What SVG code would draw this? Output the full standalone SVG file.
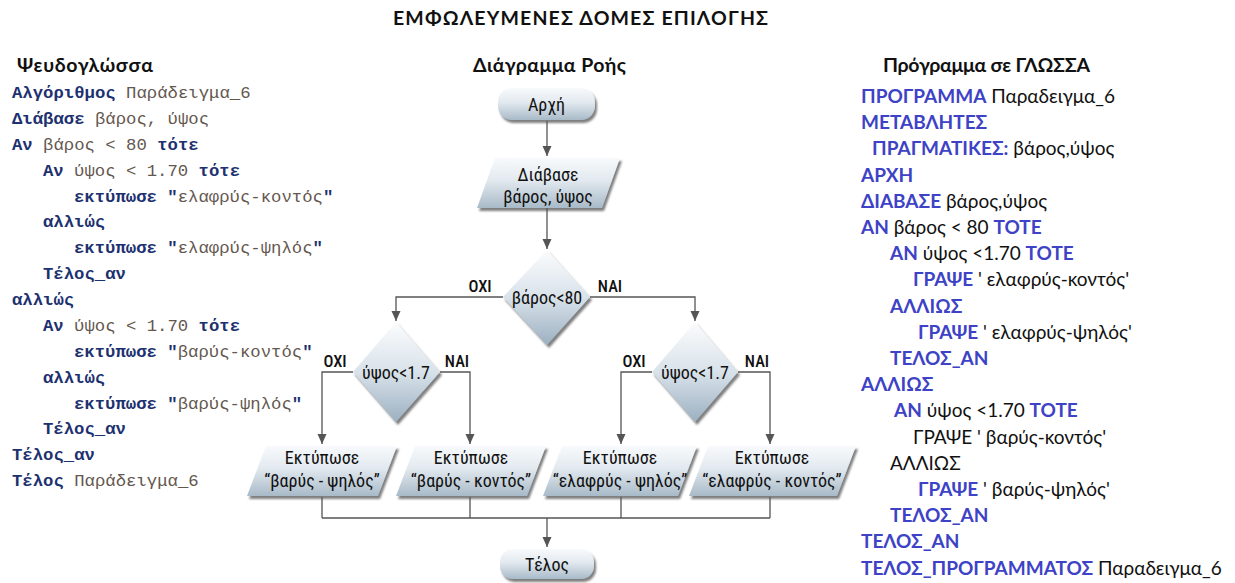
<svg xmlns="http://www.w3.org/2000/svg" width="1235" height="583" viewBox="0 0 1235 583">
<style>
.h{font-family:Lato,"Open Sans","Liberation Sans",sans-serif;font-weight:bold;font-size:19.5px;fill:#111}
.pc{font-family:"Liberation Mono","DejaVu Sans Mono",monospace;font-size:17.3px;fill:#64574f}
.pc .k{font-weight:bold;fill:#1d3170}
.gl{font-family:Lato,"Liberation Sans",sans-serif;font-size:19px;fill:#111}
.gl .k{font-weight:bold;fill:#3d42c6}
.ft{font-family:"Liberation Sans Narrow","Roboto Condensed",Roboto,sans-serif;font-size:18px;fill:#111;text-anchor:middle}
.lb{font-family:"Liberation Sans Narrow","Roboto Condensed",Roboto,sans-serif;font-size:16.5px;font-weight:500;fill:#111;text-anchor:middle}
.shape{fill:url(#g);filter:url(#sh)}
.dia{fill:url(#gd);filter:url(#sh)}
.cn{fill:none;stroke:#555;stroke-width:1.3}
.ar{marker-end:url(#ah)}
</style>
<defs>
<linearGradient id="g" x1="0" y1="0" x2="0" y2="1">
<stop offset="0" stop-color="#f8fafc"/>
<stop offset="0.45" stop-color="#e2e9ef"/>
<stop offset="1" stop-color="#a8bac8"/>
</linearGradient>
<linearGradient id="gd" x1="0" y1="0" x2="0" y2="1">
<stop offset="0" stop-color="#fbfcfd"/>
<stop offset="0.5" stop-color="#d8e2ea"/>
<stop offset="1" stop-color="#9cb0c1"/>
</linearGradient>
<filter id="sh" x="-10%" y="-10%" width="125%" height="130%">
<feDropShadow dx="2" dy="3" stdDeviation="1" flood-color="#555" flood-opacity="0.75"/>
</filter>
<marker id="ah" markerWidth="10" markerHeight="10" refX="10" refY="5" orient="auto" markerUnits="userSpaceOnUse">
<path d="M0,0.5 L10,5 L0,9.5 z" fill="#555"/>
</marker>
</defs>
<rect width="1235" height="583" fill="#fff"/>

<text class="h" x="580.5" y="25" text-anchor="middle" textLength="375" font-size="22">ΕΜΦΩΛΕΥΜΕΝΕΣ ΔΟΜΕΣ ΕΠΙΛΟΓΗΣ</text>
<text class="h" x="17" y="72" textLength="136">Ψευδογλώσσα</text>
<text class="h" x="473" y="72" textLength="153">Διάγραμμα Ροής</text>
<text class="h" x="883" y="72" textLength="207">Πρόγραμμα σε ΓΛΩΣΣΑ</text>

<g id="pseudocode" class="pc" xml:space="preserve">
<text x="12" y="98"><tspan class="k">Αλγόριθμος</tspan> Παράδειγμα_6</text>
<text x="12" y="124"><tspan class="k">Διάβασε</tspan> βάρος, ύψος</text>
<text x="12" y="150"><tspan class="k">Αν</tspan> βάρος &lt; 80 <tspan class="k">τότε</tspan></text>
<text x="43" y="176"><tspan class="k">Αν</tspan> ύψος &lt; 1.70 <tspan class="k">τότε</tspan></text>
<text x="74" y="202"><tspan class="k">εκτύπωσε</tspan> <tspan class="k">"</tspan>ελαφρύς-κοντός<tspan class="k">"</tspan></text>
<text x="43" y="227"><tspan class="k">αλλιώς</tspan></text>
<text x="74" y="253"><tspan class="k">εκτύπωσε</tspan> <tspan class="k">"</tspan>ελαφρύς-ψηλός<tspan class="k">"</tspan></text>
<text x="43" y="279"><tspan class="k">Τέλος_αν</tspan></text>
<text x="12" y="305"><tspan class="k">αλλιώς</tspan></text>
<text x="43" y="331"><tspan class="k">Αν</tspan> ύψος &lt; 1.70 <tspan class="k">τότε</tspan></text>
<text x="74" y="357"><tspan class="k">εκτύπωσε</tspan> <tspan class="k">"</tspan>βαρύς-κοντός<tspan class="k">"</tspan></text>
<text x="43" y="383"><tspan class="k">αλλιώς</tspan></text>
<text x="74" y="409"><tspan class="k">εκτύπωσε</tspan> <tspan class="k">"</tspan>βαρύς-ψηλός<tspan class="k">"</tspan></text>
<text x="43" y="434"><tspan class="k">Τέλος_αν</tspan></text>
<text x="12" y="460"><tspan class="k">Τέλος_αν</tspan></text>
<text x="12" y="486"><tspan class="k">Τέλος</tspan> Παράδειγμα_6</text>
</g>

<g id="glossa" class="gl" xml:space="preserve">
<text x="861" y="103"><tspan class="k">ΠΡΟΓΡΑΜΜΑ</tspan> Παραδειγμα_6</text>
<text x="861" y="129.2"><tspan class="k">ΜΕΤΑΒΛΗΤΕΣ</tspan></text>
<text x="872" y="155.4"><tspan class="k">ΠΡΑΓΜΑΤΙΚΕΣ:</tspan> βάρος,ύψος</text>
<text x="861" y="181.6"><tspan class="k">ΑΡΧΗ</tspan></text>
<text x="861" y="207.8"><tspan class="k">ΔΙΑΒΑΣΕ</tspan> βάρος,ύψος</text>
<text x="861" y="234"><tspan class="k">ΑΝ</tspan> βάρος &lt; 80 <tspan class="k">ΤΟΤΕ</tspan></text>
<text x="890" y="260.2"><tspan class="k">ΑΝ</tspan> ύψος &lt;1.70 <tspan class="k">ΤΟΤΕ</tspan></text>
<text x="913" y="286.4"><tspan class="k">ΓΡΑΨΕ</tspan> ' ελαφρύς-κοντός'</text>
<text x="890" y="312.6"><tspan class="k">ΑΛΛΙΩΣ</tspan></text>
<text x="918" y="338.8"><tspan class="k">ΓΡΑΨΕ</tspan> ' ελαφρύς-ψηλός'</text>
<text x="890" y="365"><tspan class="k">ΤΕΛΟΣ_ΑΝ</tspan></text>
<text x="861" y="391.2"><tspan class="k">ΑΛΛΙΩΣ</tspan></text>
<text x="894" y="417.4"><tspan class="k">ΑΝ</tspan> ύψος &lt;1.70 <tspan class="k">ΤΟΤΕ</tspan></text>
<text x="913" y="443.6">ΓΡΑΨΕ ' βαρύς-κοντός'</text>
<text x="890" y="469.8">ΑΛΛΙΩΣ</text>
<text x="918" y="496"><tspan class="k">ΓΡΑΨΕ</tspan> ' βαρύς-ψηλός'</text>
<text x="890" y="522.2"><tspan class="k">ΤΕΛΟΣ_ΑΝ</tspan></text>
<text x="861" y="548.4"><tspan class="k">ΤΕΛΟΣ_ΑΝ</tspan></text>
<text x="861" y="574.6"><tspan class="k">ΤΕΛΟΣ_ΠΡΟΓΡΑΜΜΑΤΟΣ</tspan> Παραδειγμα_6</text>
</g>

<g id="connectors">
<path class="cn ar" d="M547,121 V156"/>
<path class="cn ar" d="M547,208 V249"/>
<path class="cn ar" d="M503,297 H396 V321"/>
<path class="cn ar" d="M590,297 H695 V321"/>
<path class="cn ar" d="M353,372 H322 V444"/>
<path class="cn ar" d="M440,372 H470 V444"/>
<path class="cn ar" d="M652,372 H621 V444"/>
<path class="cn ar" d="M738,372 H770 V444"/>
<path class="cn" d="M322,497 V518 M470,497 V518 M621,497 V518 M770,497 V518 M322,518 H770"/>
<path class="cn ar" d="M547,518 V547"/>
</g>

<g id="start">
<rect class="shape" x="498" y="88" width="97" height="32" rx="14"/>
<text class="ft" x="546.5" y="110.5">Αρχή</text>
</g>
<g id="read">
<polygon class="shape" points="495,158 620,158 602,208 477,208"/>
<text class="ft" x="548" y="181">Διάβασε</text>
<text class="ft" x="548" y="203">βάρος, ύψος</text>
</g>
<g id="cond1">
<polygon class="dia" points="547,250 590,297 547,345 503,297"/>
<text class="ft" x="547" y="303.5" font-size="19">βάρος&lt;80</text>
</g>
<g id="cond2">
<polygon class="dia" points="396,322 440,372 396,422 353,372"/>
<text class="ft" x="396" y="378.5" font-size="19">ύψος&lt;1.7</text>
</g>
<g id="cond3">
<polygon class="dia" points="695,322 738,372 695,422 652,372"/>
<text class="ft" x="695" y="378.5" font-size="19">ύψος&lt;1.7</text>
</g>
<g id="labels">
<text class="lb" x="480" y="292">ΟΧΙ</text>
<text class="lb" x="610" y="292">ΝΑΙ</text>
<text class="lb" x="335" y="367">ΟΧΙ</text>
<text class="lb" x="457" y="367">ΝΑΙ</text>
<text class="lb" x="634" y="367">ΟΧΙ</text>
<text class="lb" x="757" y="367">ΝΑΙ</text>
</g>
<g id="out1">
<polygon class="shape" points="266,446 397,446 378,496 247,496"/>
<text class="ft" x="322" y="464">Εκτύπωσε</text>
<text class="ft" x="322" y="487">“βαρύς - ψηλός”</text>
</g>
<g id="out2">
<polygon class="shape" points="415,446 546,446 527,496 396,496"/>
<text class="ft" x="471" y="464">Εκτύπωσε</text>
<text class="ft" x="471" y="487">“βαρύς - κοντός”</text>
</g>
<g id="out3">
<polygon class="shape" points="562,446 697,446 678,496 543,496"/>
<text class="ft" x="620" y="464">Εκτύπωσε</text>
<text class="ft" x="620" y="487">“ελαφρύς - ψηλός”</text>
</g>
<g id="out4">
<polygon class="shape" points="708,446 856,446 837,496 689,496"/>
<text class="ft" x="772" y="464">Εκτύπωσε</text>
<text class="ft" x="772" y="487">“ελαφρύς - κοντός”</text>
</g>
<g id="end">
<rect class="shape" x="500" y="549" width="94" height="30" rx="13"/>
<text class="ft" x="547" y="570.5">Τέλος</text>
</g>
</svg>
